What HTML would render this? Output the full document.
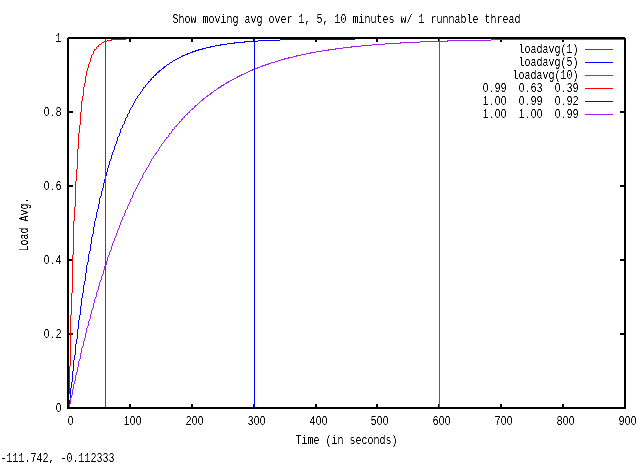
<!DOCTYPE html>
<html lang="en"><head><meta charset="utf-8"><title>Show moving avg over 1, 5, 10 minutes w/ 1 runnable thread</title>
<style>html,body{margin:0;padding:0;background:#fff}body{width:640px;height:463px;overflow:hidden}svg{display:block}text{font-family:"Liberation Mono","DejaVu Sans Mono",monospace;font-size:13.5px;fill:#000;white-space:pre}.n{font-family:"Liberation Sans","DejaVu Sans",sans-serif;font-size:13.1px}</style></head><body>
<svg width="640" height="463" viewBox="0 0 640 463" xml:space="preserve">
<defs><filter id="crisp" x="0" y="0" width="100%" height="100%" color-interpolation-filters="sRGB"><feComponentTransfer><feFuncA type="linear" slope="2.2" intercept="-0.62"/></feComponentTransfer></filter><filter id="crispv" x="0" y="0" width="100%" height="100%" color-interpolation-filters="sRGB"><feComponentTransfer><feFuncA type="linear" slope="2.4" intercept="-0.6"/></feComponentTransfer></filter></defs>
<rect width="640" height="463" fill="#fff"/>
<g shape-rendering="crispEdges">
<path fill="#000" d="M129 404h2v3h-2zM129 39h2v3h-2zM191 404h2v3h-2zM191 39h2v3h-2zM253 404h2v3h-2zM253 39h2v3h-2zM315 404h2v3h-2zM315 39h2v3h-2zM376 404h2v3h-2zM376 39h2v3h-2zM438 404h2v3h-2zM438 39h2v3h-2zM500 404h2v3h-2zM500 39h2v3h-2zM562 404h2v3h-2zM562 39h2v3h-2zM69 333h4v2h-4zM620 333h4v2h-4zM69 259h4v2h-4zM620 259h4v2h-4zM69 185h4v2h-4zM620 185h4v2h-4zM69 111h4v2h-4zM620 111h4v2h-4z"/>
<path fill="#ff0000" d="M69 366h1v28h-1zM70 315h1v51h-1zM71 293h1v22h-1zM72 255h1v38h-1zM73 221h1v34h-1zM74 207h1v14h-1zM75 181h1v26h-1zM76 169h1v12h-1zM77 149h1v20h-1zM78 133h1v16h-1zM79 125h1v8h-1zM80 112h1v13h-1zM81 101h1v11h-1zM82 96h1v5h-1zM83 87h1v9h-1zM84 83h1v4h-1zM85 76h1v7h-1zM86 71h1v5h-1zM87 68h1v3h-1zM88 64h1v4h-1zM89 62h1v2h-1zM90 58h1v4h-1zM91 55h1v3h-1zM92 54h1v1h-1zM93 51h1v3h-1zM94 49h1v2h-1zM95 49h1v1h-1zM96 47h1v2h-1zM97 46h1v1h-1zM98 45h1v2h-1zM99 44h2v1h-2zM101 43h1v1h-1zM102 42h2v1h-2zM104 41h3v1h-3zM107 40h4v1h-4zM111 39h1v2h-1zM112 39h14v1h-14z"/>
<path fill="#0000ff" d="M69 400h1v6h-1zM70 388h1v12h-1zM71 382h1v6h-1zM72 371h1v11h-1zM73 360h1v11h-1zM74 355h1v5h-1zM75 344h1v11h-1zM76 339h1v5h-1zM77 329h1v10h-1zM78 320h1v9h-1zM79 315h1v5h-1zM80 306h1v9h-1zM81 298h1v8h-1zM82 293h1v5h-1zM83 285h1v8h-1zM84 281h1v4h-1zM85 273h1v8h-1zM86 265h1v8h-1zM87 262h1v3h-1zM88 254h1v8h-1zM89 251h1v3h-1zM90 244h1v7h-1zM91 237h1v7h-1zM92 234h1v3h-1zM93 227h1v7h-1zM94 221h1v6h-1zM95 218h1v3h-1zM96 212h1v6h-1zM97 209h1v3h-1zM98 204h1v5h-1zM99 198h1v6h-1zM100 196h1v2h-1zM101 191h1v5h-1zM102 188h1v3h-1zM103 183h1v5h-1zM104 179h1v4h-1zM105 176h1v3h-1zM106 172h1v4h-1zM107 168h1v4h-1zM108 165h1v3h-1zM109 161h1v4h-1zM110 159h1v2h-1zM111 155h1v4h-1zM112 152h1v3h-1zM113 150h1v2h-1zM114 146h1v4h-1zM115 144h1v2h-1zM116 141h1v3h-1zM117 137h1v4h-1zM118 136h1v1h-1zM119 133h1v3h-1zM120 129h1v4h-1zM121 128h1v1h-1zM122 125h1v3h-1zM123 124h1v1h-1zM124 121h1v3h-1zM125 118h1v3h-1zM126 117h1v1h-1zM127 114h1v3h-1zM128 113h1v1h-1zM129 110h1v3h-1zM130 108h1v2h-1zM131 107h1v1h-1zM132 105h1v2h-1zM133 103h1v2h-1zM134 101h1v2h-1zM135 99h1v2h-1zM136 98h1v1h-1zM137 96h1v2h-1zM138 95h1v1h-1zM139 94h1v1h-1zM140 92h1v2h-1zM141 91h1v1h-1zM142 89h1v2h-1zM143 87h1v2h-1zM144 87h1v1h-1zM145 85h1v2h-1zM146 84h1v1h-1zM147 83h1v1h-1zM148 81h1v2h-1zM149 81h1v1h-1zM150 79h1v2h-1zM151 78h1v2h-1zM152 77h1v1h-1zM153 76h1v2h-1zM154 75h1v1h-1zM155 74h1v2h-1zM156 73h1v2h-1zM157 72h1v1h-1zM158 71h1v2h-1zM159 70h1v2h-1zM160 70h1v1h-1zM161 69h1v1h-1zM162 68h1v1h-1zM163 67h1v2h-1zM164 66h1v2h-1zM165 66h1v1h-1zM166 65h1v1h-1zM167 64h2v1h-2zM169 63h1v1h-1zM170 62h2v1h-2zM172 61h1v1h-1zM173 60h2v1h-2zM175 59h2v1h-2zM177 58h2v1h-2zM179 57h2v1h-2zM181 56h1v1h-1zM182 55h1v2h-1zM183 55h2v1h-2zM185 54h2v1h-2zM187 53h1v2h-1zM188 53h2v1h-2zM190 52h2v1h-2zM192 51h1v2h-1zM193 51h2v1h-2zM195 50h1v2h-1zM196 50h2v1h-2zM198 49h1v2h-1zM199 49h3v1h-3zM202 48h1v2h-1zM203 48h3v1h-3zM206 47h4v1h-4zM210 46h1v2h-1zM211 46h4v1h-4zM215 45h5v1h-5zM220 44h1v2h-1zM221 44h6v1h-6zM227 43h7v1h-7zM234 42h1v2h-1zM235 42h9v1h-9zM244 41h1v2h-1zM245 41h13v1h-13zM258 40h22v1h-22zM280 39h75v1h-75z"/>
<path fill="#a020f0" d="M69 404h1v3h-1zM70 398h1v6h-1zM71 395h1v3h-1zM72 389h1v6h-1zM73 384h1v5h-1zM74 381h1v3h-1zM75 375h1v6h-1zM76 372h1v3h-1zM77 367h1v5h-1zM78 361h1v6h-1zM79 359h1v2h-1zM80 353h1v6h-1zM81 348h1v5h-1zM82 346h1v2h-1zM83 341h1v5h-1zM84 338h1v3h-1zM85 333h1v5h-1zM86 328h1v5h-1zM87 326h1v2h-1zM88 321h1v5h-1zM89 319h1v2h-1zM90 314h1v5h-1zM91 310h1v4h-1zM92 308h1v2h-1zM93 303h1v5h-1zM94 299h1v4h-1zM95 297h1v2h-1zM96 292h1v5h-1zM97 290h1v2h-1zM98 286h1v4h-1zM99 282h1v4h-1zM100 280h1v2h-1zM101 276h1v4h-1zM102 274h1v2h-1zM103 270h1v4h-1zM104 266h1v4h-1zM105 265h1v1h-1zM106 261h1v4h-1zM107 257h1v4h-1zM108 255h1v2h-1zM109 252h1v3h-1zM110 250h1v2h-1zM111 246h1v4h-1zM112 243h1v3h-1zM113 241h1v2h-1zM114 238h1v3h-1zM115 236h1v2h-1zM116 233h1v3h-1zM117 230h1v3h-1zM118 228h1v2h-1zM119 225h1v3h-1zM120 222h1v3h-1zM121 220h1v2h-1zM122 217h1v3h-1zM123 216h1v1h-1zM124 213h1v3h-1zM125 210h1v3h-1zM126 209h1v1h-1zM127 206h1v3h-1zM128 204h1v2h-1zM129 202h1v2h-1zM130 199h1v3h-1zM131 198h1v1h-1zM132 195h1v3h-1zM133 192h1v3h-1zM134 191h1v1h-1zM135 189h1v2h-1zM136 187h1v2h-1zM137 185h1v2h-1zM138 183h1v2h-1zM139 181h1v2h-1zM140 179h1v2h-1zM141 178h1v1h-1zM142 175h1v3h-1zM143 173h1v2h-1zM144 172h1v1h-1zM145 170h1v2h-1zM146 168h1v2h-1zM147 167h1v1h-1zM148 165h1v2h-1zM149 163h1v2h-1zM150 161h1v2h-1zM151 159h1v2h-1zM152 158h1v1h-1zM153 156h1v2h-1zM154 155h1v1h-1zM155 153h1v2h-1zM156 152h1v2h-1zM157 151h1v1h-1zM158 149h1v2h-1zM159 147h1v2h-1zM160 146h1v1h-1zM161 144h1v2h-1zM162 143h1v1h-1zM163 142h1v1h-1zM164 140h1v2h-1zM165 139h1v1h-1zM166 137h1v2h-1zM167 137h1v1h-1zM168 135h1v2h-1zM169 133h1v2h-1zM170 133h1v1h-1zM171 131h1v2h-1zM172 129h1v2h-1zM173 129h1v1h-1zM174 127h1v2h-1zM175 126h1v1h-1zM176 125h1v2h-1zM177 124h1v1h-1zM178 123h1v1h-1zM179 121h1v2h-1zM180 121h1v1h-1zM181 119h1v2h-1zM182 118h1v2h-1zM183 117h1v1h-1zM184 116h1v2h-1zM185 115h1v1h-1zM186 114h1v1h-1zM187 113h1v2h-1zM188 112h1v1h-1zM189 111h1v2h-1zM190 110h1v1h-1zM191 109h1v1h-1zM192 108h1v2h-1zM193 108h1v1h-1zM194 106h1v2h-1zM195 105h1v2h-1zM196 105h1v1h-1zM197 104h1v1h-1zM198 103h1v1h-1zM199 102h1v1h-1zM200 101h1v1h-1zM201 100h1v1h-1zM202 99h1v2h-1zM203 98h1v2h-1zM204 98h1v1h-1zM205 97h1v1h-1zM206 96h1v1h-1zM207 95h1v2h-1zM208 95h1v1h-1zM209 94h1v1h-1zM210 93h1v2h-1zM211 92h1v2h-1zM212 92h1v1h-1zM213 91h1v1h-1zM214 90h2v1h-2zM216 89h1v1h-1zM217 88h1v1h-1zM218 87h1v2h-1zM219 87h1v1h-1zM220 86h1v2h-1zM221 85h1v2h-1zM222 85h1v1h-1zM223 84h1v2h-1zM224 84h1v1h-1zM225 83h1v1h-1zM226 82h1v2h-1zM227 82h1v1h-1zM228 81h1v2h-1zM229 81h1v1h-1zM230 80h2v1h-2zM232 79h2v1h-2zM234 78h2v1h-2zM236 77h1v1h-1zM237 76h1v2h-1zM238 76h1v1h-1zM239 75h1v2h-1zM240 75h1v1h-1zM241 74h1v2h-1zM242 74h2v1h-2zM244 73h2v1h-2zM246 72h2v1h-2zM248 71h2v1h-2zM250 70h2v1h-2zM252 69h1v2h-1zM253 69h2v1h-2zM255 68h2v1h-2zM257 67h1v2h-1zM258 67h2v1h-2zM260 66h2v1h-2zM262 65h1v2h-1zM263 65h2v1h-2zM265 64h1v2h-1zM266 64h2v1h-2zM268 63h1v2h-1zM269 63h2v1h-2zM271 62h4v1h-4zM275 61h3v1h-3zM278 60h3v1h-3zM281 59h3v1h-3zM284 58h1v2h-1zM285 58h3v1h-3zM288 57h1v2h-1zM289 57h4v1h-4zM293 56h3v1h-3zM296 55h1v2h-1zM297 55h4v1h-4zM301 54h5v1h-5zM306 53h4v1h-4zM310 52h1v2h-1zM311 52h5v1h-5zM316 51h6v1h-6zM322 50h6v1h-6zM328 49h1v2h-1zM329 49h6v1h-6zM335 48h1v2h-1zM336 48h7v1h-7zM343 47h8v1h-8zM351 46h1v2h-1zM352 46h9v1h-9zM361 45h11v1h-11zM372 44h13v1h-13zM385 43h15v1h-15zM400 42h1v2h-1zM401 42h19v1h-19zM420 41h27v1h-27zM447 40h1v2h-1zM448 40h43v1h-43zM491 39h133v1h-133z"/>
<rect x="105" y="39" width="1" height="368" fill="#ff0000"/>
<rect x="254" y="39" width="1" height="368" fill="#0000ff"/>
<rect x="439" y="39" width="1" height="368" fill="#a020f0"/>
<rect x="585" y="49" width="28" height="1" fill="#ff0000"/>
<rect x="585" y="62" width="28" height="1" fill="#0000ff"/>
<rect x="585" y="75" width="28" height="1" fill="#a020f0"/>
<rect x="585" y="88" width="28" height="1" fill="#ff0000"/>
<rect x="585" y="101" width="28" height="1" fill="#0000ff"/>
<rect x="585" y="114" width="28" height="1" fill="#a020f0"/>
<path fill="#000" fill-rule="evenodd" d="M67 37h559v372h-559zM69 39v368h555v-368z"/>
<path fill="#fff" d="M67 37h1v1h-1zM625 37h1v1h-1z"/>
</g>
<g filter="url(#crisp)">
<text transform="translate(172.5 23) scale(0.74062 1)" x="0.00 8.10 16.20 24.30 32.41 40.51 48.61 56.71 64.81 72.91 81.01 89.11 97.22 105.32 113.42 121.52 129.62 137.72 145.82 153.93 162.03 170.13 178.23 186.33 194.43 202.53 210.63 218.74 226.84 234.94 243.04 251.14 259.24 267.34 275.44 283.55 291.65 299.75 307.85 315.95 324.05 332.15 340.26 348.36 356.46 364.56 372.66 380.76 388.86 396.96 405.07 413.17 421.27 429.37 437.47 445.57 453.67 461.78">Show moving avg over 1, 5, 10 minutes w/ 1 runnable thread</text>
<text class="n" transform="translate(55.5 412) scale(0.78000 1)" x="0.20">0</text>
<text class="n" transform="translate(43.5 338) scale(0.78000 1)" x="0.20 9.72 15.59">0.2</text>
<text class="n" transform="translate(43.5 264) scale(0.78000 1)" x="0.20 9.72 15.59">0.4</text>
<text class="n" transform="translate(43.5 190) scale(0.78000 1)" x="0.20 9.72 15.59">0.6</text>
<text class="n" transform="translate(43.5 116) scale(0.78000 1)" x="0.20 9.72 15.59">0.8</text>
<text transform="translate(55.5 42) scale(0.74062 1)" x="0.00">1</text>
<text class="n" transform="translate(67.5 425) scale(0.78000 1)" x="0.20">0</text>
<text class="n" transform="translate(123.5 425) scale(0.78000 1)" x="0.20 7.90 15.59">100</text>
<text class="n" transform="translate(185.5 425) scale(0.78000 1)" x="0.20 7.90 15.59">200</text>
<text class="n" transform="translate(247.5 425) scale(0.78000 1)" x="0.20 7.90 15.59">300</text>
<text class="n" transform="translate(309.5 425) scale(0.78000 1)" x="0.20 7.90 15.59">400</text>
<text class="n" transform="translate(370.5 425) scale(0.78000 1)" x="0.20 7.90 15.59">500</text>
<text class="n" transform="translate(432.5 425) scale(0.78000 1)" x="0.20 7.90 15.59">600</text>
<text class="n" transform="translate(494.5 425) scale(0.78000 1)" x="0.20 7.90 15.59">700</text>
<text class="n" transform="translate(556.5 425) scale(0.78000 1)" x="0.20 7.90 15.59">800</text>
<text class="n" transform="translate(618.5 425) scale(0.78000 1)" x="0.20 7.90 15.59">900</text>
<text transform="translate(295.5 444) scale(0.74062 1)" x="0.00 8.10 16.20 24.30 32.41 40.51 48.61 56.71 64.81 72.91 81.01 89.11 97.22 105.32 113.42 121.52 129.62">Time (in seconds)</text>
<text transform="translate(0.5 462) scale(0.74062 1)" x="0.00 8.10 16.20 24.30 32.41 40.51 48.61 56.71 64.81 72.91 81.01 89.11 97.22 105.32 113.42 121.52 129.62 137.72 145.82">-111.742, -0.112333</text>
<text transform="translate(518.5 53) scale(0.74062 1)" x="0.00 8.10 16.20 24.30 32.41 40.51 48.61 56.71 64.81 72.91">loadavg(1)</text>
<text transform="translate(518.5 66) scale(0.74062 1)" x="0.00 8.10 16.20 24.30 32.41 40.51 48.61 56.71 64.81 72.91">loadavg(5)</text>
<text transform="translate(512.5 79) scale(0.74062 1)" x="0.00 8.10 16.20 24.30 32.41 40.51 48.61 56.71 64.81 72.91 81.01">loadavg(10)</text>
<text class="n" transform="translate(482.5 92) scale(0.78000 1)" x="0.20 9.72 15.59 23.28 32.80 40.49 46.36 55.87 61.74 69.43 78.95 86.64 92.51 102.03 107.90 115.59">0.99  0.63  0.39</text>
<text class="n" transform="translate(482.5 105) scale(0.78000 1)" x="0.20 9.72 15.59 23.28 32.80 40.49 46.36 55.87 61.74 69.43 78.95 86.64 92.51 102.03 107.90 115.59">1.00  0.99  0.92</text>
<text class="n" transform="translate(482.5 118) scale(0.78000 1)" x="0.20 9.72 15.59 23.28 32.80 40.49 46.36 55.87 61.74 69.43 78.95 86.64 92.51 102.03 107.90 115.59">1.00  1.00  0.99</text>
</g>
<g filter="url(#crispv)">
<text transform="translate(28 251.5) rotate(-90) scale(0.74062 1)" x="0.00 8.10 16.20 24.30 32.41 40.51 48.61 56.71 64.81">Load Avg.</text>
</g>
</svg></body></html>
